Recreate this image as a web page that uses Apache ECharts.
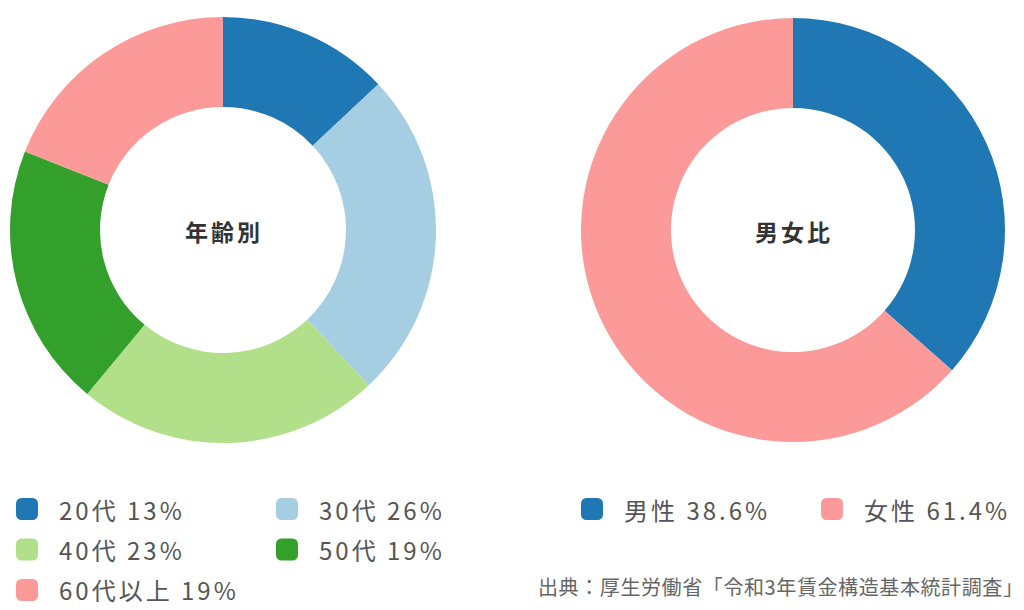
<!DOCTYPE html>
<html>
<head>
<meta charset="utf-8">
<script src="https://cdn.jsdelivr.net/npm/echarts@6/dist/echarts.min.js"></script>
<style>
html,body{margin:0;padding:0;background:#fff;}
#main{width:1024px;height:610px;}
#main text{letter-spacing:3px;}
#main text[style*="20px"]{letter-spacing:0.6px;}
</style>
</head>
<body>
<div id="main"></div>
<script>
const ageCategories = ['20代', '30代', '40代', '50代', '60代以上'];
const ageValues = [13, 25, 23, 20, 19];
const ageLabels = ['13%', '26%', '23%', '19%', '19%'];
const ageColors = ['#1f78b4', '#a6cee3', '#b2df8a', '#33a02c', '#fb9a99'];
const genderCategories = ['男性', '女性'];
const genderValues = [36.5, 63.5];
const genderLabels = ['38.6%', '61.4%'];
const genderColors = ['#1f78b4', '#fb9a99'];
const centerLabels = ['年齢別', '男女比'];
const sourceText = '出典：厚生労働省「令和3年賃金構造基本統計調査」';

const FONT = '"Noto Sans CJK JP", "Noto Sans", sans-serif';
const chart = echarts.init(document.getElementById('main'), null, { renderer: 'svg' });

const labelMap = {};
ageCategories.forEach((c, i) => labelMap[c] = ageLabels[i]);
genderCategories.forEach((c, i) => labelMap[c] = genderLabels[i]);

function legendBase(extra) {
  return Object.assign({
    icon: 'roundRect',
    itemWidth: 22,
    itemHeight: 22,
    padding: 0,
    selectedMode: false,
    formatter: n => n + ' ' + labelMap[n],
    textStyle: {
      fontFamily: FONT,
      fontSize: 24,
      color: '#555',
      padding: [0, 0, 0, 16]
    }
  }, extra);
}

chart.setOption({
  animation: false,
  color: ageColors,
  legend: [
    legendBase({ orient: 'vertical', left: 16, top: 497, height: 120, itemGap: 16.5,
      data: [ageCategories[0], ageCategories[2], ageCategories[4]] }),
    legendBase({ orient: 'vertical', left: 276, top: 497, height: 120, itemGap: 16.5,
      data: [ageCategories[1], ageCategories[3]] }),
    legendBase({ left: 581, top: 497, data: [genderCategories[0]] }),
    legendBase({ left: 821, top: 497, data: [genderCategories[1]] })
  ],
  graphic: [
    { type: 'text', x: 224, y: 231, style: { text: centerLabels[0], fontFamily: FONT, fontSize: 23, fontWeight: 'bold', fill: '#333', align: 'center', verticalAlign: 'middle' } },
    { type: 'text', x: 794, y: 231, style: { text: centerLabels[1], fontFamily: FONT, fontSize: 23, fontWeight: 'bold', fill: '#333', align: 'center', verticalAlign: 'middle' } },
    { type: 'text', x: 538, y: 586, style: { text: sourceText, fontFamily: FONT, fontSize: 20, fill: '#666', align: 'left', verticalAlign: 'middle' } }
  ],
  series: [
    {
      type: 'pie',
      center: [223, 230],
      radius: [123, 213],
      startAngle: 90,
      clockwise: true,
      label: { show: false },
      labelLine: { show: false },
      emphasis: { disabled: true },
      data: ageCategories.map((c, i) => ({ name: c, value: ageValues[i], itemStyle: { color: ageColors[i] } }))
    },
    {
      type: 'pie',
      center: [793, 230],
      radius: [122, 212],
      startAngle: 90,
      clockwise: true,
      label: { show: false },
      labelLine: { show: false },
      emphasis: { disabled: true },
      data: genderCategories.map((c, i) => ({ name: c, value: genderValues[i], itemStyle: { color: genderColors[i] } }))
    }
  ]
});
</script>
</body>
</html>
